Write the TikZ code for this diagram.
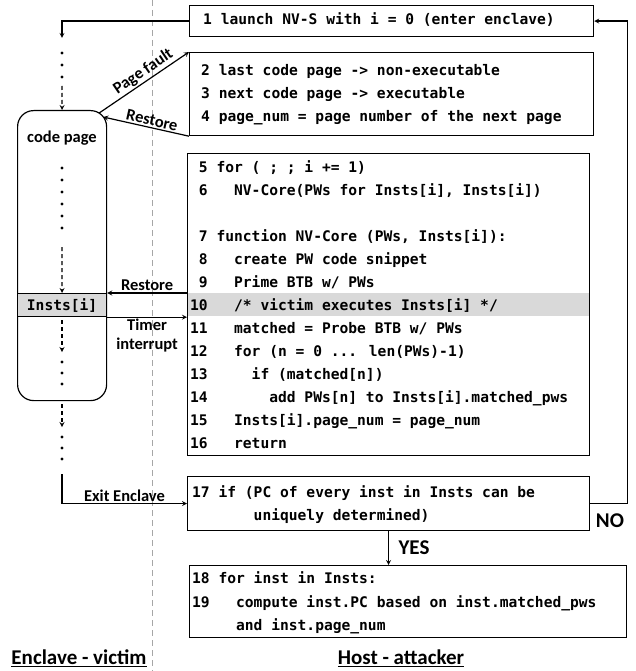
\documentclass[tikz,border=0pt]{standalone}
\usepackage{fontspec}
\setmainfont{Carlito}
\newfontfamily\codefam{DejaVu Sans Mono}
\newcommand{\cf}{\fontsize{14.6}{23}\codefam\bfseries}
\newcommand{\lf}{\fontsize{16.5}{19}\selectfont\bfseries}
\newcommand{\hf}{\fontsize{21}{24}\selectfont\bfseries}
\tikzset{bx/.style = {draw, line width=1.2pt, anchor=north west, inner sep=0pt},
         cd/.style = {anchor=base west, inner sep=0pt, font=\cf},
         lb/.style = {inner sep=1.5pt, font=\lf},
         ar/.style = {->, line width=1.2pt},
         da/.style = {->, line width=1.2pt, dash pattern=on 4pt off 3pt}}

\begin{document}
\begin{tikzpicture}[x=1pt, y=-1pt, >=stealth]
    \useasboundingbox[fill=white] (0,0) rectangle (636,671);
    \draw[gray!70, line width=0.8pt, dash pattern=on 6pt off 4pt] (152,0) -- (152,671);

    % host side boxes
    \node[bx, minimum width=404pt, minimum height=31pt] (b1) at (189,5) {};
    \node[bx, minimum width=404pt, minimum height=83pt] (b2) at (189,52) {};
    \fill[black!15] (187,293) rectangle (589,316);
    \node[bx, minimum width=402pt, minimum height=302pt] (b3) at (187,153) {};
    \node[bx, minimum width=402pt, minimum height=54pt] (b17) at (187,476) {};
    \node[bx, minimum width=437pt, minimum height=72pt] (b18) at (189,565) {};

    \node[cd] at (203,25) {1 launch NV-S with i = 0 (enter enclave)};
    \node[cd] at (201,76) {2 last code page -> non-executable};
    \node[cd] at (201,99) {3 next code page -> executable};
    \node[cd] at (201,122) {4 page\_num = page number of the next page};
    \node[cd] at (190,172) {~5 for ( ; ; i += 1)};
    \node[cd] at (190,195) {~6~~~NV-Core(PWs for Insts[i], Insts[i])};
    \node[cd] at (190,241) {~7 function NV-Core (PWs, Insts[i]):};
    \node[cd] at (190,264) {~8~~~create PW code snippet};
    \node[cd] at (190,287) {~9~~~Prime BTB w/ PWs};
    \node[cd] at (190,310) {10~~~/* victim executes Insts[i] */};
    \node[cd] at (190,333) {11~~~matched = Probe BTB w/ PWs};
    \node[cd] at (190,356) {12~~~for (n = 0 ... len(PWs)-1)};
    \node[cd] at (190,379) {13~~~~~if (matched[n])};
    \node[cd] at (190,402) {14~~~~~~~add PWs[n] to Insts[i].matched\_pws};
    \node[cd] at (190,425) {15~~~Insts[i].page\_num = page\_num};
    \node[cd] at (190,448) {16~~~return};
    \node[cd] at (192,497) {17 if (PC of every inst in Insts can be};
    \node[cd] at (192,520) {~~~~~~~uniquely determined)};
    \node[cd] at (192,583) {18 for inst in Insts:};
    \node[cd] at (192,607) {19~~~compute inst.PC based on inst.matched\_pws};
    \node[cd] at (192,630) {~~~~~and inst.page\_num};

    % enclave side
    \node[bx, minimum width=89pt, minimum height=290pt, rounded corners=16pt] (cp) at (17,110) {};
    \node[bx, minimum width=89pt, minimum height=23pt, fill=black!15] (ins) at (17,293) {};
    \node[cd, anchor=center] at (ins.center) {Insts[i]};
    \node[lb] (cpt) at (62,138) {code page};

    \coordinate (s1) at (62,38);  \coordinate (s2) at (62,86);
    \coordinate (s3) at (62,247); \coordinate (s4) at (62,320);
    \coordinate (s5) at (62,352); \coordinate (s6) at (62,404);
    \coordinate (s7) at (62,427); \coordinate (s8) at (62,474);
    \fill (62,53) circle (1.7pt); \fill (62,65) circle (1.7pt); \fill (62,77) circle (1.7pt);
    \fill (62,168) circle (1.7pt); \fill (62,180) circle (1.7pt); \fill (62,192) circle (1.7pt);
    \fill (62,204) circle (1.7pt); \fill (62,216) circle (1.7pt); \fill (62,228) circle (1.7pt);
    \fill (62,362) circle (1.7pt); \fill (62,373) circle (1.7pt); \fill (62,384) circle (1.7pt);
    \fill (62,437) circle (1.7pt); \fill (62,448) circle (1.7pt); \fill (62,459) circle (1.7pt);

    \draw[ar] (b1.west) -| (s1);
    \draw[da] (s2) -- (cp.north);
    \draw[da] (s3) -- (ins.north);
    \draw[da] (s4) -- (s5);
    \draw[da] (s6) -- (s7);
    \draw[ar] (s8) |- node[lb, pos=.75, above] {Exit Enclave} (b17.west);

    % traps between the two sides
    \draw[ar] ([xshift=-8pt, yshift=-3pt]cp.north east) -- node[lb, sloped, above, pos=.55] {Page fault} (b2.north west);
    \draw[ar] (b2.south west) -- node[lb, sloped, above, pos=.45] {Restore} ([xshift=-4pt, yshift=-7pt]cp.north east);
    \draw[ar] (ins.north east -| b3.west) -- node[lb, above] {Restore} (ins.north east);
    \draw[ar] (ins.south east) -- node[lb, below, align=center] {Timer\\interrupt} (ins.south east -| b3.west);

    % decision
    \draw[ar] (b17.east) -- (b17.east -| b18.east) |- (b1.east);
    \node[font=\hf] (no) at (610,521) {NO};
    \draw[ar] (b17.south) -- node[font=\hf, right, xshift=6pt] {YES} (b17.south |- b18.north);

    \node[font=\hf] (hv) at (79,658) {\underline{Enclave - victim}};
    \node[font=\hf] (ha) at (401,658) {\underline{Host - attacker}};
\end{tikzpicture}
\end{document}
